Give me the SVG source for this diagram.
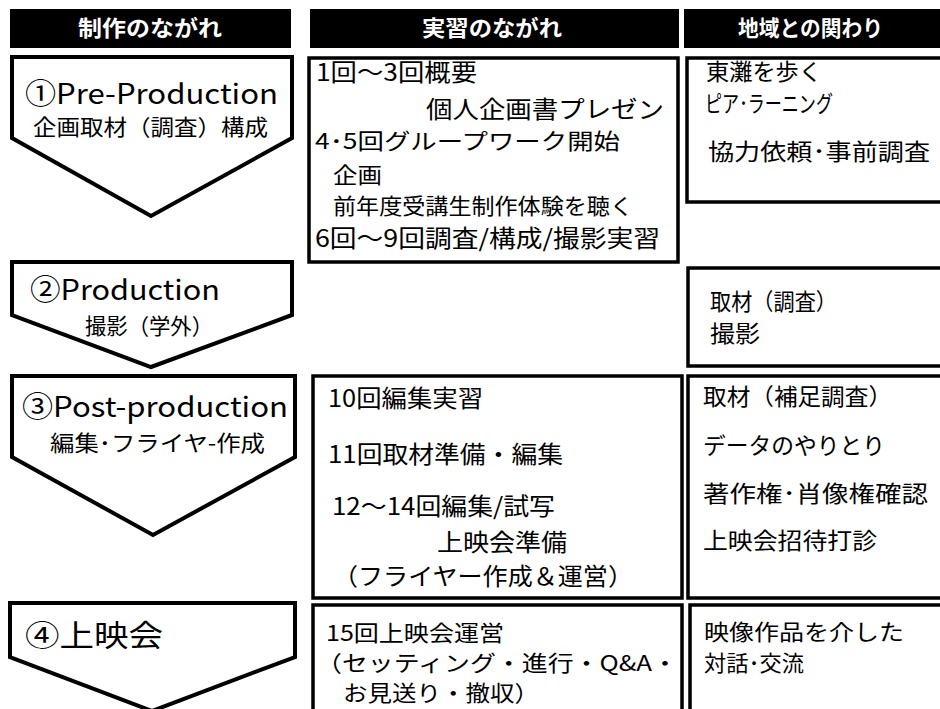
<svg xmlns="http://www.w3.org/2000/svg" width="940" height="709" viewBox="0 0 940 709">
<style>
.bg{fill:#fff}
.hdr{fill:#000}
.ht{fill:#fff;font-family:"Noto Sans CJK JP","Noto Sans CJK SC",sans-serif;font-weight:bold;font-size:22px}
.pent{fill:#fff;stroke:#000;stroke-width:4;stroke-linejoin:miter}
.box{fill:#fff;stroke:#000;stroke-width:3.5}
.t{fill:#000;font-family:"Noto Sans CJK JP","Noto Sans CJK SC",sans-serif;font-size:23px}
.big{font-size:28px}
.mid{font-size:22px}
.g{font-size:24px}
.s{font-size:22px}
</style>
<rect class="bg" x="0" y="0" width="940" height="709"/>
<g id="header1"><rect class="hdr" x="10" y="9" width="281" height="39"/><text class="ht" x="78" y="36" textLength="144" lengthAdjust="spacingAndGlyphs">制作のながれ</text></g>
<g id="header2"><rect class="hdr" x="310" y="9" width="369" height="39"/><text class="ht" x="422" y="36" textLength="140" lengthAdjust="spacingAndGlyphs">実習のながれ</text></g>
<g id="header3"><rect class="hdr" x="684" y="9" width="260" height="39"/><text class="ht" x="738" y="36" textLength="145" lengthAdjust="spacingAndGlyphs">地域との関わり</text></g>

<g id="stage1">
<path class="pent" d="M12,57 H292 V138 L151,216 L12,138 Z"/>
<text class="t big" x="25" y="104" textLength="253" lengthAdjust="spacingAndGlyphs">①Pre-Production</text>
<text class="t mid" x="33" y="135" textLength="235" lengthAdjust="spacingAndGlyphs">企画取材（調査）構成</text>
</g>
<g id="stage2">
<path class="pent" d="M12,262 H292 V315 L151,367 L12,315 Z"/>
<text class="t big" x="30" y="300" textLength="190" lengthAdjust="spacingAndGlyphs">②Production</text>
<text class="t mid" x="85" y="334" textLength="128" lengthAdjust="spacingAndGlyphs">撮影（学外）</text>
</g>
<g id="stage3">
<path class="pent" d="M12,376 H295 V457 L153,535 L12,457 Z"/>
<text class="t big" x="22" y="417" textLength="266" lengthAdjust="spacingAndGlyphs">③Post-production</text>
<text class="t mid" x="50" y="451" textLength="215" lengthAdjust="spacingAndGlyphs">編集･フライヤ-作成</text>
</g>
<g id="stage4">
<path class="pent" d="M10,603 H295 V657 L152,711 L10,657 Z"/>
<text class="t" style="font-size:30px" x="25" y="646" textLength="138" lengthAdjust="spacingAndGlyphs">④上映会</text>
</g>

<g id="practice1">
<rect class="box" x="309" y="58" width="369" height="204"/>
<text class="t g" x="316" y="81" textLength="161" lengthAdjust="spacingAndGlyphs">1回～3回概要</text>
<text class="t g" x="426" y="118" textLength="238" lengthAdjust="spacingAndGlyphs">個人企画書プレゼン</text>
<text class="t mid" x="315" y="149" textLength="305" lengthAdjust="spacingAndGlyphs">4･5回グループワーク開始</text>
<text class="t mid" x="333" y="183" textLength="49" lengthAdjust="spacingAndGlyphs">企画</text>
<text class="t mid" x="333" y="214" textLength="300" lengthAdjust="spacingAndGlyphs">前年度受講生制作体験を聴く</text>
<text class="t g" x="315" y="247" textLength="345" lengthAdjust="spacingAndGlyphs">6回～9回調査/構成/撮影実習</text>
</g>
<g id="practice2">
<rect class="box" x="313" y="376" width="369" height="222"/>
<text class="t g" x="328" y="407" textLength="155" lengthAdjust="spacingAndGlyphs">10回編集実習</text>
<text class="t g" x="328" y="463" textLength="235" lengthAdjust="spacingAndGlyphs">11回取材準備・編集</text>
<text class="t g" x="332" y="515" textLength="223" lengthAdjust="spacingAndGlyphs">12～14回編集/試写</text>
<text class="t g" x="437" y="551" textLength="130" lengthAdjust="spacingAndGlyphs">上映会準備</text>
<text class="t g" x="333" y="585" textLength="300" lengthAdjust="spacingAndGlyphs">（フライヤー作成＆運営）</text>
</g>
<g id="practice3">
<rect class="box" x="313" y="605" width="369" height="130"/>
<text class="t s" x="326" y="641" textLength="178" lengthAdjust="spacingAndGlyphs">15回上映会運営</text>
<text class="t s" x="316" y="671" textLength="362" lengthAdjust="spacingAndGlyphs">（セッティング・進行・Q&amp;A・</text>
<text class="t s" x="343" y="701" textLength="196" lengthAdjust="spacingAndGlyphs">お見送り・撤収）</text>
</g>

<g id="local1">
<rect class="box" x="687" y="58" width="270" height="144"/>
<text class="t" x="706" y="80" textLength="116" lengthAdjust="spacingAndGlyphs">東灘を歩く</text>
<text class="t" x="705" y="112" textLength="128" lengthAdjust="spacingAndGlyphs">ピア･ラーニング</text>
<text class="t" x="708" y="160" textLength="222" lengthAdjust="spacingAndGlyphs">協力依頼･事前調査</text>
</g>
<g id="local2">
<rect class="box" x="688" y="268" width="270" height="98"/>
<text class="t" x="710" y="310" textLength="127" lengthAdjust="spacingAndGlyphs">取材（調査）</text>
<text class="t" x="710" y="342" textLength="50" lengthAdjust="spacingAndGlyphs">撮影</text>
</g>
<g id="local3">
<rect class="box" x="688" y="376" width="270" height="222"/>
<text class="t" x="703" y="405" textLength="189" lengthAdjust="spacingAndGlyphs">取材（補足調査）</text>
<text class="t" x="703" y="454" textLength="182" lengthAdjust="spacingAndGlyphs">データのやりとり</text>
<text class="t" x="703" y="502" textLength="225" lengthAdjust="spacingAndGlyphs">著作権･肖像権確認</text>
<text class="t" x="703" y="549" textLength="174" lengthAdjust="spacingAndGlyphs">上映会招待打診</text>
</g>
<g id="local4">
<rect class="box" x="690" y="605" width="270" height="130"/>
<text class="t s" x="704" y="640" textLength="200" lengthAdjust="spacingAndGlyphs">映像作品を介した</text>
<text class="t s" x="704" y="671" textLength="100" lengthAdjust="spacingAndGlyphs">対話･交流</text>
</g>
</svg>
